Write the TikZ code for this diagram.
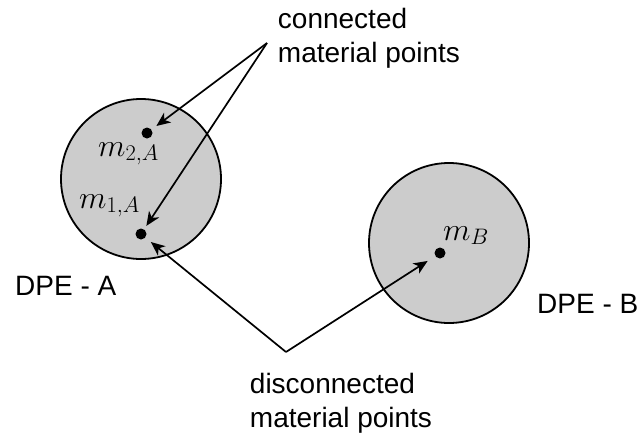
\RequirePackage{fix-cm}
\documentclass[tikz,border=0pt]{standalone}
\usepackage{fontspec}
\setmainfont{Liberation Sans}
\usetikzlibrary{arrows.meta}
\definecolor{dpefill}{HTML}{CCCCCC}
\tikzset{
  dpe/.style={circle, draw=black, line width=1.8pt, fill=dpefill, minimum size=160pt, inner sep=0pt},
  matpt/.style={circle, fill=black, inner sep=0pt, minimum size=11pt},
  lbl/.style={font=\fontsize{28}{34}\selectfont, inner sep=0pt, text=black},
  mlbl/.style={font=\fontsize{32}{38}\selectfont, inner sep=0pt, anchor=base west},
  arr/.style={-{Stealth[length=14pt, width=12pt, inset=4pt]}, line width=1.7pt}
}
\begin{document}
\begin{tikzpicture}[x=1pt, y=-1pt]
\useasboundingbox (0,0) rectangle (639,434);
\node[dpe] (A) at (141,179) {};
\node[dpe] (B) at (449,243) {};
\node[matpt] (m2A) at (147,133) {};
\node[matpt] (m1A) at (141,234) {};
\node[matpt] (mB) at (440,253) {};
\node[mlbl] (l2A) at (98,156) {$m_{2,A}$};
\node[mlbl] (l1A) at (79,208) {$m_{1,A}$};
\node[mlbl] (lB) at (443,240) {$m_{B}$};
\node[lbl, anchor=base west] (dpeA) at (15,295) {DPE - A};
\node[lbl, anchor=base west] (dpeB) at (537,313) {DPE - B};
\node[lbl, align=left, anchor=center] (conn) at (369,38) {connected\\material points};
\node[lbl, align=left, anchor=center] (disc) at (341,403) {disconnected\\material points};
\coordinate (cfork) at (267,43);
\coordinate (dfork) at (286,352);
\draw[arr, shorten >=6pt] (cfork) -- (m2A);
\draw[arr, shorten >=4pt] (cfork) -- (m1A);
\draw[arr, shorten >=7pt] (dfork) -- (m1A);
\draw[arr, shorten >=9pt] (dfork) -- (mB);
\end{tikzpicture}
\end{document}
